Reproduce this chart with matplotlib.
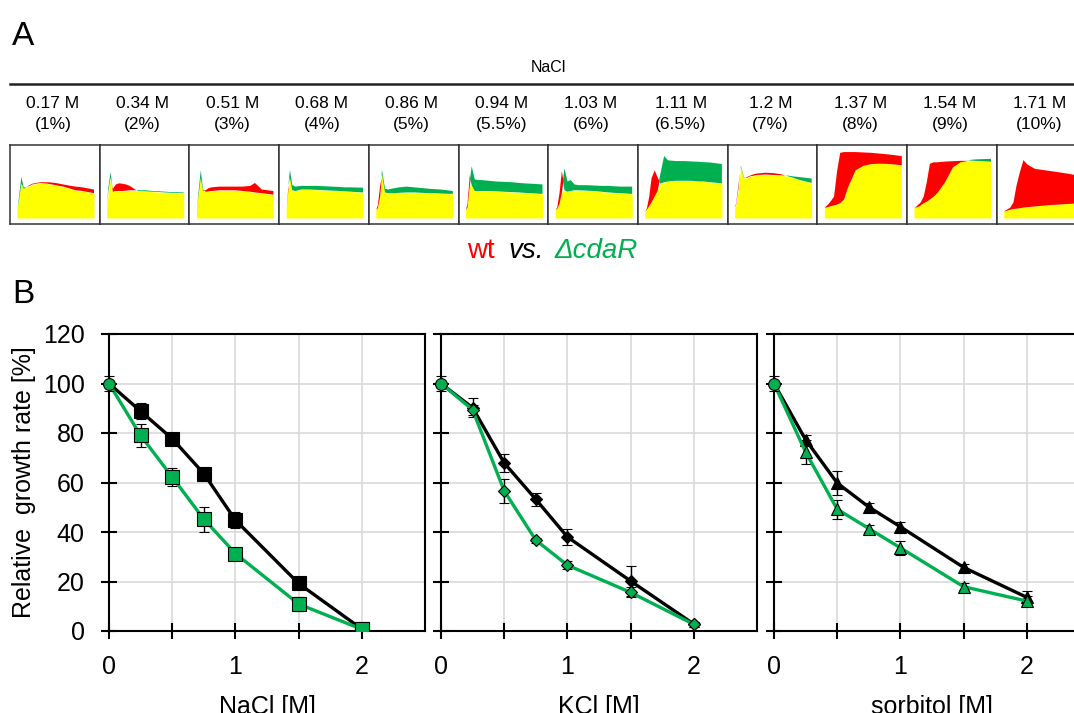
import numpy as np
import matplotlib
matplotlib.use("Agg")
import matplotlib.pyplot as plt
from matplotlib.lines import Line2D

plt.rcParams['font.family'] = ['Liberation Sans', 'DejaVu Sans']

W, H = 1074, 713
GREEN = '#00b050'
RED = '#ff0000'
YELLOW = '#ffff00'

# ---- A: growth curves, wt vs. cdaR, one thumbnail per NaCl concentration
nacl_molar = ['0.17 M', '0.34 M', '0.51 M', '0.68 M', '0.86 M', '0.94 M',
              '1.03 M', '1.11 M', '1.2 M', '1.37 M', '1.54 M', '1.71 M']
nacl_percent = ['(1%)', '(2%)', '(3%)', '(4%)', '(5%)', '(5.5%)',
                '(6%)', '(6.5%)', '(7%)', '(8%)', '(9%)', '(10%)']
# normalised time and OD for every thumbnail
t = [0, 0.02, 0.05, 0.08, 0.12, 0.16, 0.2, 0.25, 0.3, 0.4, 0.5, 0.6, 0.7, 0.76, 0.85, 1.0]
wt_curves = [
    [0.12, 0.25, 0.48, 0.41, 0.42, 0.45, 0.47, 0.48, 0.49, 0.49, 0.48, 0.46, 0.44, 0.43, 0.42, 0.39],
    [0.13, 0.35, 0.55, 0.40, 0.46, 0.475, 0.47, 0.46, 0.44, 0.37, 0.365, 0.36, 0.355, 0.35, 0.345, 0.34],
    [0.13, 0.30, 0.55, 0.38, 0.38, 0.41, 0.42, 0.425, 0.43, 0.43, 0.43, 0.43, 0.44, 0.48, 0.39, 0.37],
    [0.12, 0.40, 0.55, 0.38, 0.37, 0.38, 0.39, 0.39, 0.39, 0.385, 0.38, 0.375, 0.37, 0.365, 0.36, 0.35],
    [0.12, 0.18, 0.45, 0.60, 0.35, 0.34, 0.34, 0.34, 0.345, 0.35, 0.35, 0.345, 0.34, 0.34, 0.335, 0.33],
    [0.12, 0.20, 0.60, 0.45, 0.37, 0.37, 0.37, 0.37, 0.37, 0.365, 0.36, 0.355, 0.35, 0.345, 0.34, 0.33],
    [0.12, 0.15, 0.35, 0.65, 0.38, 0.36, 0.37, 0.38, 0.38, 0.375, 0.37, 0.36, 0.35, 0.345, 0.34, 0.33],
    [0.10, 0.14, 0.30, 0.55, 0.66, 0.56, 0.47, 0.49, 0.50, 0.51, 0.51, 0.51, 0.50, 0.50, 0.49, 0.475],
    [0.13, 0.20, 0.45, 0.70, 0.55, 0.56, 0.58, 0.60, 0.61, 0.62, 0.615, 0.60, 0.57, 0.55, 0.52, 0.48],
    [0.15, 0.17, 0.20, 0.24, 0.30, 0.65, 0.90, 0.91, 0.91, 0.91, 0.905, 0.90, 0.89, 0.885, 0.875, 0.855],
    [0.15, 0.16, 0.19, 0.22, 0.30, 0.50, 0.75, 0.77, 0.77, 0.78, 0.785, 0.79, 0.79, 0.785, 0.78, 0.77],
    [0.10, 0.11, 0.13, 0.15, 0.22, 0.45, 0.62, 0.80, 0.74, 0.68, 0.665, 0.65, 0.635, 0.625, 0.61, 0.58],
]
cdar_curves = [
    [0.12, 0.30, 0.57, 0.43, 0.42, 0.44, 0.46, 0.47, 0.48, 0.47, 0.45, 0.43, 0.40, 0.38, 0.37, 0.34],
    [0.13, 0.40, 0.63, 0.36, 0.37, 0.37, 0.37, 0.375, 0.38, 0.38, 0.38, 0.37, 0.365, 0.36, 0.355, 0.35],
    [0.13, 0.35, 0.66, 0.40, 0.36, 0.365, 0.37, 0.375, 0.38, 0.38, 0.38, 0.37, 0.36, 0.35, 0.34, 0.32],
    [0.12, 0.35, 0.66, 0.45, 0.43, 0.435, 0.44, 0.44, 0.44, 0.44, 0.435, 0.43, 0.425, 0.42, 0.42, 0.415],
    [0.12, 0.14, 0.30, 0.66, 0.40, 0.39, 0.40, 0.41, 0.42, 0.43, 0.42, 0.41, 0.40, 0.395, 0.39, 0.37],
    [0.12, 0.15, 0.45, 0.71, 0.53, 0.52, 0.52, 0.515, 0.51, 0.50, 0.495, 0.49, 0.48, 0.475, 0.47, 0.46],
    [0.12, 0.13, 0.20, 0.35, 0.68, 0.50, 0.52, 0.46, 0.45, 0.45, 0.445, 0.44, 0.44, 0.435, 0.43, 0.43],
    [0.10, 0.12, 0.17, 0.22, 0.30, 0.38, 0.60, 0.85, 0.79, 0.78, 0.78, 0.775, 0.77, 0.765, 0.76, 0.74],
    [0.13, 0.18, 0.40, 0.72, 0.56, 0.55, 0.57, 0.58, 0.59, 0.595, 0.59, 0.585, 0.58, 0.57, 0.56, 0.54],
    [0.15, 0.15, 0.16, 0.17, 0.18, 0.19, 0.21, 0.26, 0.42, 0.66, 0.72, 0.745, 0.75, 0.75, 0.745, 0.73],
    [0.15, 0.15, 0.16, 0.18, 0.21, 0.23, 0.26, 0.30, 0.35, 0.50, 0.70, 0.77, 0.79, 0.80, 0.805, 0.81],
    [0.10, 0.10, 0.11, 0.12, 0.13, 0.135, 0.14, 0.15, 0.155, 0.165, 0.175, 0.185, 0.19, 0.195, 0.20, 0.21],
]

# ---- B: relative growth rate [%] vs. osmolyte concentration [M]
conc = [0, 0.25, 0.5, 0.75, 1, 1.5, 2]
nacl_wt = [100, 88.8, 77.7, 63.6, 44.8, 19.2, 0.8]
nacl_wt_err = [3, 3.2, 1, 1, 3.1, 1, 0.5]
nacl_cdar = [100, 79.0, 62.2, 45.2, 31.3, 10.9, 0.7]
nacl_cdar_err = [3, 4.8, 3.5, 5, 1, 3, 0.5]
kcl_wt = [100, 90.2, 67.9, 53.2, 38.0, 20.2, 2.8]
kcl_wt_err = [3, 3.9, 3.5, 2.7, 3.4, 6.2, 1]
kcl_cdar = [100, 89.4, 56.6, 36.7, 26.6, 15.6, 2.7]
kcl_cdar_err = [3, 2, 5, 1, 1.5, 2, 1]
sorb_wt = [100, 77.3, 59.8, 50.1, 42.1, 25.7, 13.6]
sorb_wt_err = [3, 2, 4.7, 1.5, 2, 1.5, 2.5]
sorb_cdar = [100, 72.3, 49.2, 41.4, 33.6, 17.9, 12.1]
sorb_cdar_err = [3, 5, 3.8, 1.5, 2.7, 1.5, 2]


fig = plt.figure(figsize=(W / 100, H / 100), dpi=100)


def px_axes(left, top, width, height):
    return fig.add_axes([left / W, 1 - (top + height) / H, width / W, height / H])


def px_text(x, y, s, **kw):
    return fig.text(x / W, 1 - y / H, s, **kw)


# panel A header
px_text(12, 45, 'A', fontsize=24, va='baseline')
px_text(548, 67, 'NaCl', fontsize=11.5, ha='center', va='center')
fig.add_artist(Line2D([10 / W, 1.0], [1 - 84 / H, 1 - 84 / H], color='#222222', lw=1.8))

BOX_W = 89.7
t = np.array(t)
for i in range(12):
    left = 10 + i * BOX_W
    cx = left + BOX_W / 2 - 2
    px_text(cx, 103, nacl_molar[i], fontsize=12.5, ha='center', va='center')
    px_text(cx, 124, nacl_percent[i], fontsize=12.5, ha='center', va='center')

    ax = px_axes(left, 145, BOX_W, 79)
    wt = np.array(wt_curves[i])
    cd = np.array(cdar_curves[i])
    ax.fill_between(t, 0, np.minimum(wt, cd), color=YELLOW, lw=0)
    ax.fill_between(t, cd, wt, where=wt >= cd, interpolate=True, color=RED, lw=0)
    ax.fill_between(t, wt, cd, where=cd >= wt, interpolate=True, color=GREEN, lw=0)
    ax.set_xlim(-7 / 77, (BOX_W - 7) / 77)
    ax.set_ylim(-6 / 73, 1)
    ax.set_xticks([])
    ax.set_yticks([])
    for s in ax.spines.values():
        s.set_linewidth(1.1)
        s.set_color('#333333')

# legend line under the thumbnails
px_text(467, 258, 'wt', fontsize=20, color=RED, va='baseline')
px_text(508, 258, 'vs.', fontsize=20, style='italic', va='baseline')
px_text(555, 258, '\u0394cdaR', fontsize=20, style='italic', color=GREEN, va='baseline')

# panel B
px_text(12, 303, 'B', fontsize=24, va='baseline')

panels = [
    ('NaCl [M]', 's', 9.5, nacl_wt, nacl_wt_err, nacl_cdar, nacl_cdar_err),
    ('KCl [M]', 'D', 6, kcl_wt, kcl_wt_err, kcl_cdar, kcl_cdar_err),
    ('sorbitol [M]', '^', 9, sorb_wt, sorb_wt_err, sorb_cdar, sorb_cdar_err),
]
lefts = [109, 441, 774]

for k, (xlabel, mk, ms, wt, wt_err, cd, cd_err) in enumerate(panels):
    ax = px_axes(lefts[k], 334, 316, 297)
    ax.set_xlim(0, 2.5)
    ax.set_ylim(0, 120)
    ax.set_xticks([0, 0.5, 1, 1.5, 2])
    ax.set_xticklabels(['0', '', '1', '', '2'])
    ax.set_yticks(range(0, 121, 20))
    if k > 0:
        ax.set_yticklabels([])
    ax.grid(True, color='#d9d9d9', lw=1.2)
    ax.set_axisbelow(True)
    for s in ax.spines.values():
        s.set_linewidth(1.5)
    ax.tick_params(direction='inout', length=11, width=1.5, pad=12, labelsize=18)

    ax.errorbar(conc[1:], wt[1:], yerr=wt_err[1:], color='black', lw=2.4,
                marker=mk, ms=ms, mfc='black', mec='black', mew=0.8,
                ecolor='black', elinewidth=1, capsize=3.8, capthick=1, zorder=3)
    ax.plot(conc[:2], wt[:2], color='black', lw=2.4, zorder=3)
    ax.errorbar(conc[1:], cd[1:], yerr=cd_err[1:], color=GREEN, lw=2.4,
                marker=mk, ms=ms, mfc=GREEN, mec='black', mew=0.8,
                ecolor='black', elinewidth=1, capsize=3.8, capthick=1, zorder=4)
    ax.plot(conc[:2], cd[:2], color=GREEN, lw=2.4, zorder=4)
    # shared starting point
    ax.errorbar(conc[:1], cd[:1], yerr=cd_err[:1], color=GREEN, marker='o', ms=8.5,
                mec='black', mew=0.8, ecolor='black', elinewidth=1, capsize=3.8,
                capthick=1, zorder=5, clip_on=False)

    ax.set_xlabel(xlabel, fontsize=18, labelpad=11)
    if k == 0:
        ax.set_ylabel('Relative  growth rate [%]', fontsize=18, labelpad=5)

fig.savefig('out.png', dpi=100)
